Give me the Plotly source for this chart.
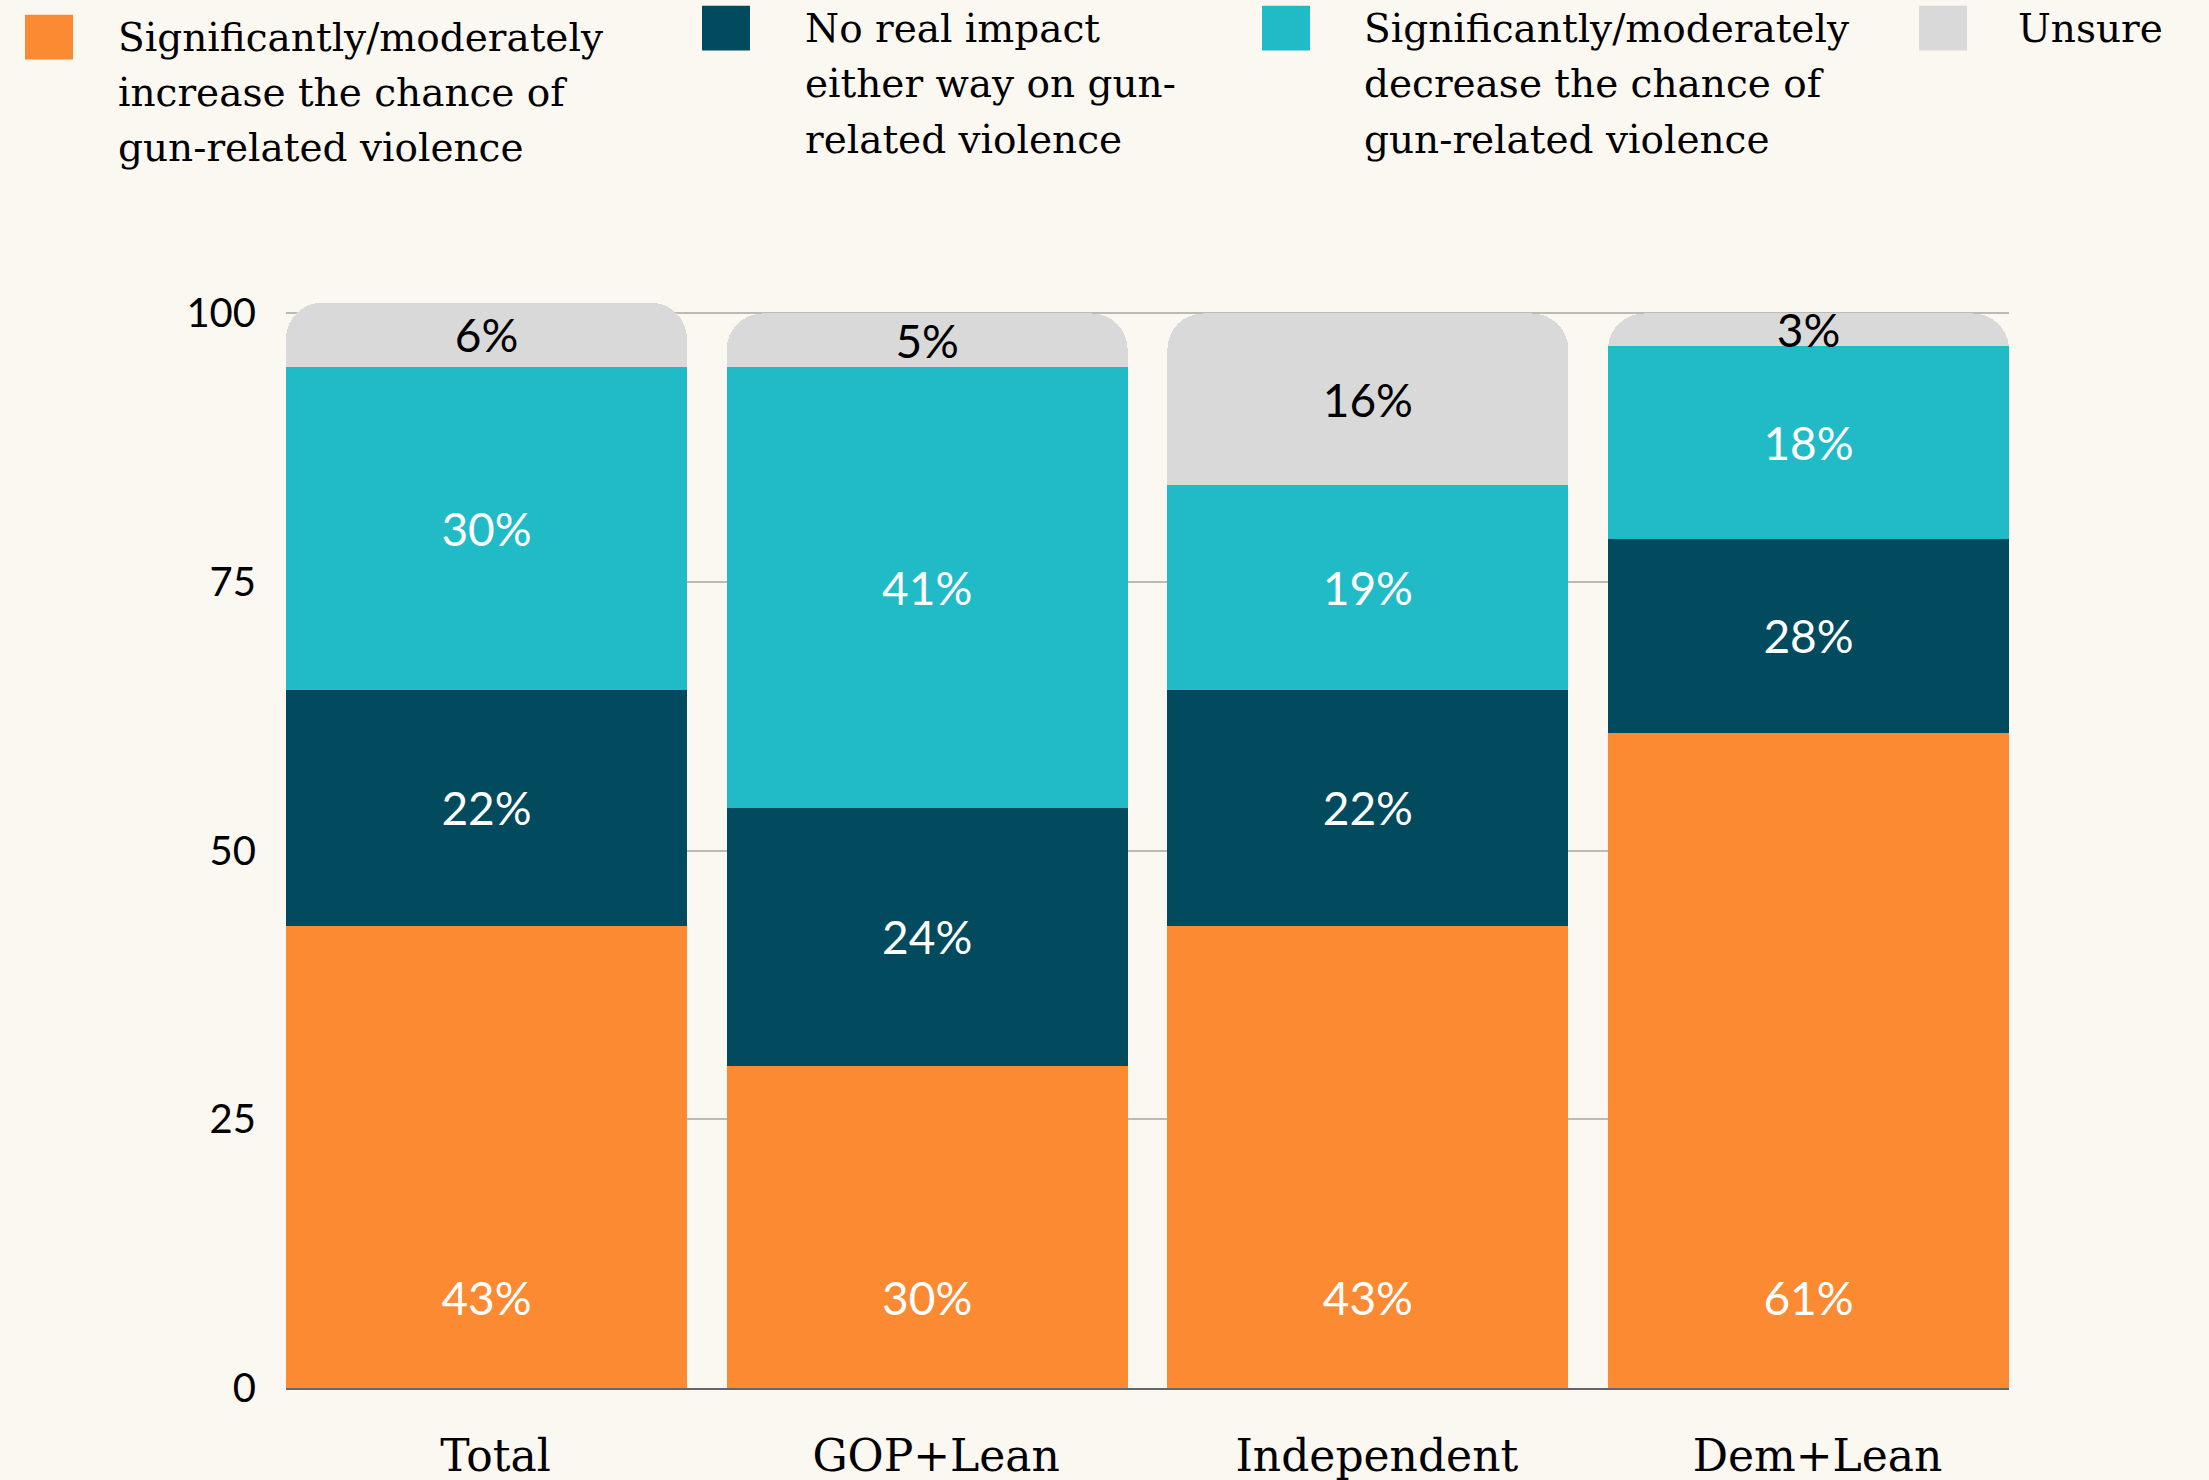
import plotly.graph_objects as go

categories = ["Total", "GOP+Lean", "Independent", "Dem+Lean"]
increase = [43, 30, 43, 61]
no_impact = [22, 24, 22, 18]
decrease = [30, 41, 19, 18]
unsure = [6, 5, 16, 3]

increase_labels = ["43%", "30%", "43%", "61%"]
no_impact_labels = ["22%", "24%", "22%", "28%"]
decrease_labels = ["30%", "41%", "19%", "18%"]
unsure_labels = ["6%", "5%", "16%", "3%"]

series_names = [
    ["Significantly/moderately", "increase the chance of", "gun-related violence"],
    ["No real impact", "either way on gun-", "related violence"],
    ["Significantly/moderately", "decrease the chance of", "gun-related violence"],
    ["Unsure"],
]
colors = ["#FB8A33", "#024A5E", "#21BBC8", "#D9D9D9"]
text_colors = ["white", "white", "white", "black"]

y_ticks = [0, 25, 50, 75, 100]

W, H = 2209, 1480
L, R = 286, 2009
T, B = 291.5, 1388
BG = "#FBF7F1"
SERIF = "DejaVu Serif"
SANS = "Lato"

fig = go.Figure()
vals = [increase, no_impact, decrease, unsure]
labs = [increase_labels, no_impact_labels, decrease_labels, unsure_labels]
for i in range(4):
    texts = labs[i]
    if i == 0:
        texts = [t + "<br>\u00a0" for t in texts]
    fig.add_trace(go.Bar(
        x=categories, y=vals[i], name=" ".join(series_names[i]),
        marker=dict(color=colors[i], line=dict(width=0)),
        text=texts, textposition="inside", textangle=0,
        insidetextanchor="start" if i == 0 else "middle",
        textfont=dict(family=SANS, size=46, color=text_colors[i]),
        hoverinfo="skip", showlegend=False,
    ))

def px(x):
    return (x - L) / (R - L)

def py(y):
    return (B - y) / (B - T)

shapes = []
annotations = []
legend_items = [
    (25, 14, 116, [37, 92, 147]),
    (702, 5, 803, [28, 83, 139]),
    (1262, 5, 1362, [28, 83, 139]),
    (1919, 5, 2016, [28]),
]
for i, (sx, sy, tx, lines_y) in enumerate(legend_items):
    shapes.append(dict(type="rect", xref="paper", yref="paper",
                       x0=px(sx), x1=px(sx + 48), y0=py(sy), y1=py(sy + 45),
                       fillcolor=colors[i], line=dict(width=0), layer="above"))
    for line, ly in zip(series_names[i], lines_y):
        annotations.append(dict(xref="paper", yref="paper", x=px(tx), y=py(ly),
                                xanchor="left", yanchor="middle", showarrow=False,
                                text=line, font=dict(family=SERIF, size=39, color="black")))

fig.update_layout(
    width=W, height=H,
    margin=dict(l=L, r=W - R, t=T, b=H - B, pad=0, autoexpand=False),
    paper_bgcolor=BG, plot_bgcolor=BG,
    barmode="stack", bargap=0.09, barcornerradius=36,
    uniformtext=dict(minsize=46, mode="show"),
    shapes=shapes, annotations=annotations,
    showlegend=False,
)
fig.update_xaxes(
    range=[-0.5 + 0.045, 3.5 - 0.045], showgrid=False, automargin=False,
    showline=True, linecolor="#666666", linewidth=2,
    ticks="outside", ticklen=28, tickcolor="rgba(0,0,0,0)",
    ticklabelshift=9,
    tickfont=dict(family=SERIF, size=44, color="black"),
)
fig.update_yaxes(
    range=[0, 102], tickvals=y_ticks, automargin=False,
    showgrid=True, gridcolor="#BDB9B3", gridwidth=2, zeroline=False,
    ticks="outside", ticklen=21, tickcolor="rgba(0,0,0,0)",
    tickfont=dict(family=SANS, size=40, color="black"),
)

fig.write_html(
    "out.html",
    config={"displayModeBar": False},
    post_script="document.body.style.margin='0';document.body.style.background='%s';" % BG,
)
